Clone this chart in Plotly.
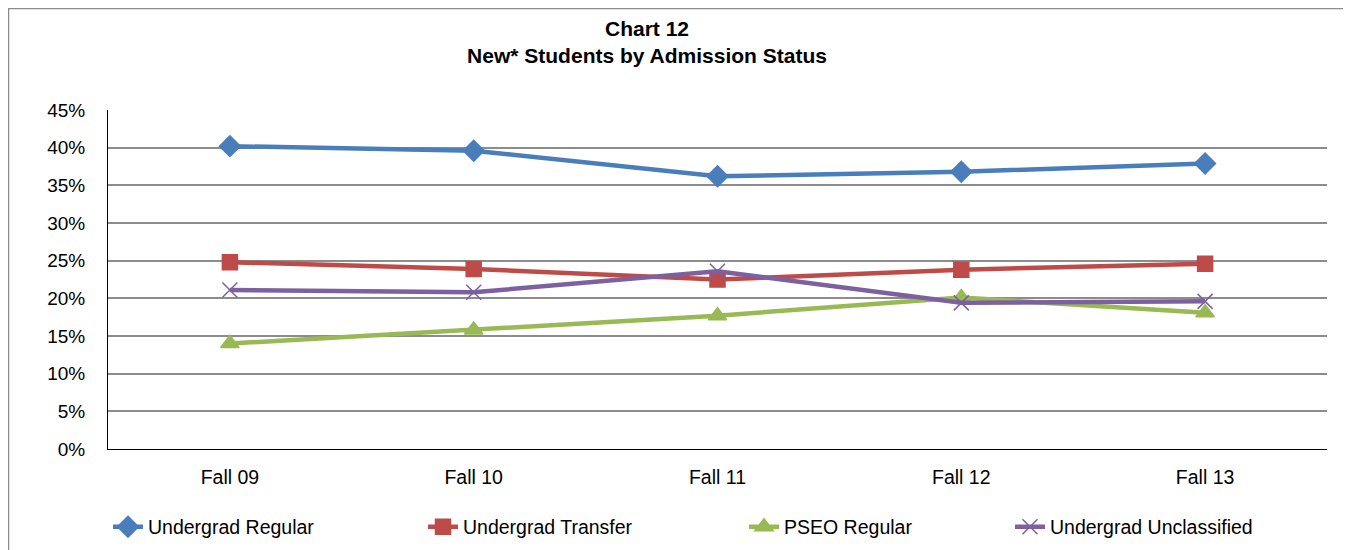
import plotly.graph_objects as go

categories = ["Fall 09", "Fall 10", "Fall 11", "Fall 12", "Fall 13"]
undergrad_regular = [0.402, 0.396, 0.362, 0.368, 0.379]
undergrad_transfer = [0.248, 0.239, 0.225, 0.238, 0.246]
pseo_regular = [0.140, 0.158, 0.177, 0.201, 0.181]
undergrad_unclassified = [0.211, 0.208, 0.236, 0.194, 0.196]
y_ticks = [0, 0.05, 0.10, 0.15, 0.20, 0.25, 0.30, 0.35, 0.40, 0.45]
y_tick_labels = ["0%", "5%", "10%", "15%", "20%", "25%", "30%", "35%", "40%", "45%"]

OFF = 8  # page body margin
series = [
    ("Undergrad Regular", undergrad_regular, "#4A7EBB", "diamond", 16, "legend", 100),
    ("Undergrad Transfer", undergrad_transfer, "#BE4B48", "square", 15, "legend2", 415),
    ("PSEO Regular", pseo_regular, "#98B954", "triangle-up", 16, "legend3", 736),
    ("Undergrad Unclassified", undergrad_unclassified, "#7D60A0", "x-thin", 15, "legend4", 1002),
]

W, H = 1351, 550
FONT = "Liberation Sans"
fig = go.Figure()
layout_legends = {}
for name, vals, color, sym, size, leg, lx in series:
    fig.add_trace(go.Scatter(
        x=categories, y=vals, name=name, mode="lines+markers",
        line=dict(color=color, width=4.5),
        marker=dict(symbol=sym, size=size, color=color,
                    line=dict(color=color, width=1.5)),
        legend=leg,
    ))
    layout_legends[leg] = dict(
        x=(lx - OFF + 8) / W, y=(H - (527 - OFF)) / H, xref="container", yref="container",
        xanchor="left", yanchor="middle", orientation="h",
        bgcolor="rgba(0,0,0,0)", font=dict(family=FONT, size=19.5, color="#000"),
        itemwidth=30,
    )

L, R, T, B = 108 - OFF, 1327 - OFF, 110 - OFF, 449 - OFF
pw, ph = R - L, B - T

fig.update_layout(
    width=W, height=H,
    margin=dict(l=L, r=W - R, t=T, b=H - B),
    paper_bgcolor="white", plot_bgcolor="white",
    title=dict(text="<b>Chart 12<br>New* Students by Admission Status</b>",
               x=(647 - OFF) / W, xanchor="center", y=(H - (36 - OFF)) / H, yanchor="middle",
               font=dict(family=FONT, size=21, color="#000")),
    xaxis=dict(type="category", range=[-0.5, 4.5], showgrid=False,
               showline=True, linecolor="#000", linewidth=1,
               ticks="", tickfont=dict(family=FONT, size=19.5, color="#000"),
               ticklabelstandoff=11, zeroline=False),
    yaxis=dict(range=[0, 0.45], tickvals=y_ticks, ticktext=y_tick_labels,
               showgrid=True, gridcolor="#8c8c8c", gridwidth=1.5,
               showline=True, linecolor="#000", linewidth=1,
               ticks="", tickfont=dict(family=FONT, size=19, color="#000"),
               ticklabelstandoff=18, zeroline=False),
    showlegend=True,
    shapes=[dict(type="rect", xref="paper", yref="paper",
                 x0=(0.5 - L) / pw, x1=(1345 - OFF - L) / pw,
                 y0=(B - 570) / ph, y1=(B - 0.5) / ph,
                 line=dict(color="#8c8c8c", width=1.5), layer="below")],
    **layout_legends,
)

fig.write_html("out.html")
